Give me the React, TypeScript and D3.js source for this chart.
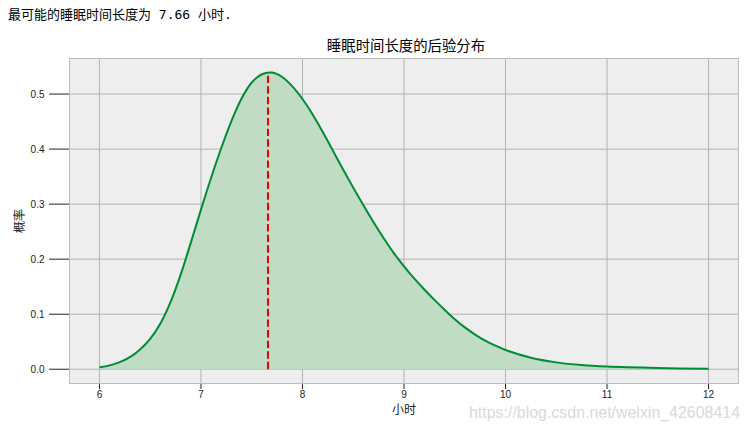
import React from "react";
import * as d3 from "d3";

const hours = [6.0, 6.1, 6.2, 6.3, 6.4, 6.5, 6.6, 6.7, 6.8, 6.9, 7.0, 7.1, 7.2, 7.3, 7.4, 7.5, 7.6, 7.7, 7.8, 7.9, 8.0, 8.1, 8.2, 8.3, 8.4, 8.5, 8.6, 8.7, 8.8, 8.9, 9.0, 9.1, 9.2, 9.3, 9.4, 9.5, 9.6, 9.7, 9.8, 9.9, 10.0, 10.25, 10.5, 10.75, 11.0, 11.5, 12.0];
const density = [0.0036, 0.007, 0.013, 0.022, 0.036, 0.055, 0.083, 0.122, 0.172, 0.23, 0.29, 0.348, 0.402, 0.451, 0.492, 0.521, 0.536, 0.539, 0.531, 0.514, 0.491, 0.463, 0.431, 0.397, 0.363, 0.33, 0.298, 0.267, 0.238, 0.211, 0.187, 0.165, 0.145, 0.126, 0.108, 0.091, 0.076, 0.063, 0.052, 0.043, 0.035, 0.021, 0.0125, 0.0075, 0.0048, 0.0022, 0.0008];
const modeHours = 7.66;
const modeDensity = 0.538;
const xTicks = [6, 7, 8, 9, 10, 11, 12];
const yTicks = [0.0, 0.1, 0.2, 0.3, 0.4, 0.5];
const headline = "最可能的睡眠时间长度为 7.66 小时.";
const chartTitle = "睡眠时间长度的后验分布";
const xLabel = "小时";
const yLabel = "概率";
const watermark = "https://blog.csdn.net/weixin_42608414";

export default function App() {
  const W = 746, H = 428;
  const left = 69, right = 739, top = 58, bottom = 384;
  const x = d3.scaleLinear().domain([5.7, 12.3]).range([left, right]);
  const y = d3.scaleLinear().domain([-0.0268, 0.5655]).range([bottom, top]);
  const pts = hours.map((h, i) => [h, density[i]] as [number, number]);
  const curve = d3.curveCatmullRom.alpha(0.5);
  const line = d3.line<[number, number]>().x(d => x(d[0])).y(d => y(d[1])).curve(curve);
  const area = d3.area<[number, number]>().x(d => x(d[0])).y0(y(0)).y1(d => y(d[1])).curve(curve);
  const tickFont = "'Liberation Sans', Arial, 'Noto Sans CJK SC', sans-serif";
  const cjk = "'Noto Sans CJK SC', sans-serif";
  return (
    <svg width={W} height={H} style={{ position: "absolute", left: 0, top: 0, background: "#fff" }}>
      <text x={8} y={19} fontSize={13} fontFamily={"'DejaVu Sans Mono', 'Noto Sans CJK SC', monospace"} fill="#000">{headline}</text>
      <text x={(left + right) / 2 + 2} y={51} textAnchor="middle" fontSize={14.4} fontFamily={cjk} fill="#000">{chartTitle}</text>
      <rect x={left} y={top} width={right - left} height={bottom - top} fill="#eeeeee" />
      {xTicks.map(t => (
        <line key={"gx" + t} x1={x(t)} x2={x(t)} y1={top} y2={bottom} stroke="#b2b2b2" strokeWidth={1} />
      ))}
      {yTicks.map(t => (
        <line key={"gy" + t} x1={left} x2={right} y1={y(t)} y2={y(t)} stroke="#b2b2b2" strokeWidth={1} />
      ))}
      <path d={area(pts) || ""} fill="rgb(192,220,197)" />
      <path d={line(pts) || ""} fill="none" stroke="#008b35" strokeWidth={2} />
      <line x1={x(modeHours)} x2={x(modeHours)} y1={y(0)} y2={y(modeDensity)} stroke="#ee0000" strokeWidth={2} strokeDasharray="7.4,3.2" />
      <rect x={left + 0.5} y={top + 0.5} width={right - left - 1} height={bottom - top - 1} fill="none" stroke="#bcbcbc" strokeWidth={1} />
      {xTicks.map(t => (
        <g key={"tx" + t}>
          <line x1={x(t)} x2={x(t)} y1={bottom} y2={bottom + 5} stroke="#222" strokeWidth={1} />
          <text x={x(t)} y={bottom + 14} textAnchor="middle" fontSize={10} fontFamily={tickFont} fill="#222">{t}</text>
        </g>
      ))}
      {yTicks.map(t => (
        <g key={"ty" + t}>
          <line x1={49} x2={left} y1={y(t)} y2={y(t)} stroke="#222" strokeWidth={1} />
          <text x={44.5} y={y(t) + 3.5} textAnchor="end" fontSize={10} fontFamily={tickFont} fill="#222">{t.toFixed(1)}</text>
        </g>
      ))}
      <text x={(left + right) / 2} y={414} textAnchor="middle" fontSize={12} fontFamily={cjk} fill="#222">{xLabel}</text>
      <text transform={`translate(24,${(top + bottom) / 2}) rotate(-90)`} textAnchor="middle" fontSize={12} fontFamily={cjk} fill="#222">{yLabel}</text>
      <text x={469} y={418} fontSize={16} fontFamily={"'Liberation Sans', Arial, sans-serif"} fill="#d9d9d9" textLength={271} lengthAdjust="spacingAndGlyphs">{watermark}</text>
    </svg>
  );
}
